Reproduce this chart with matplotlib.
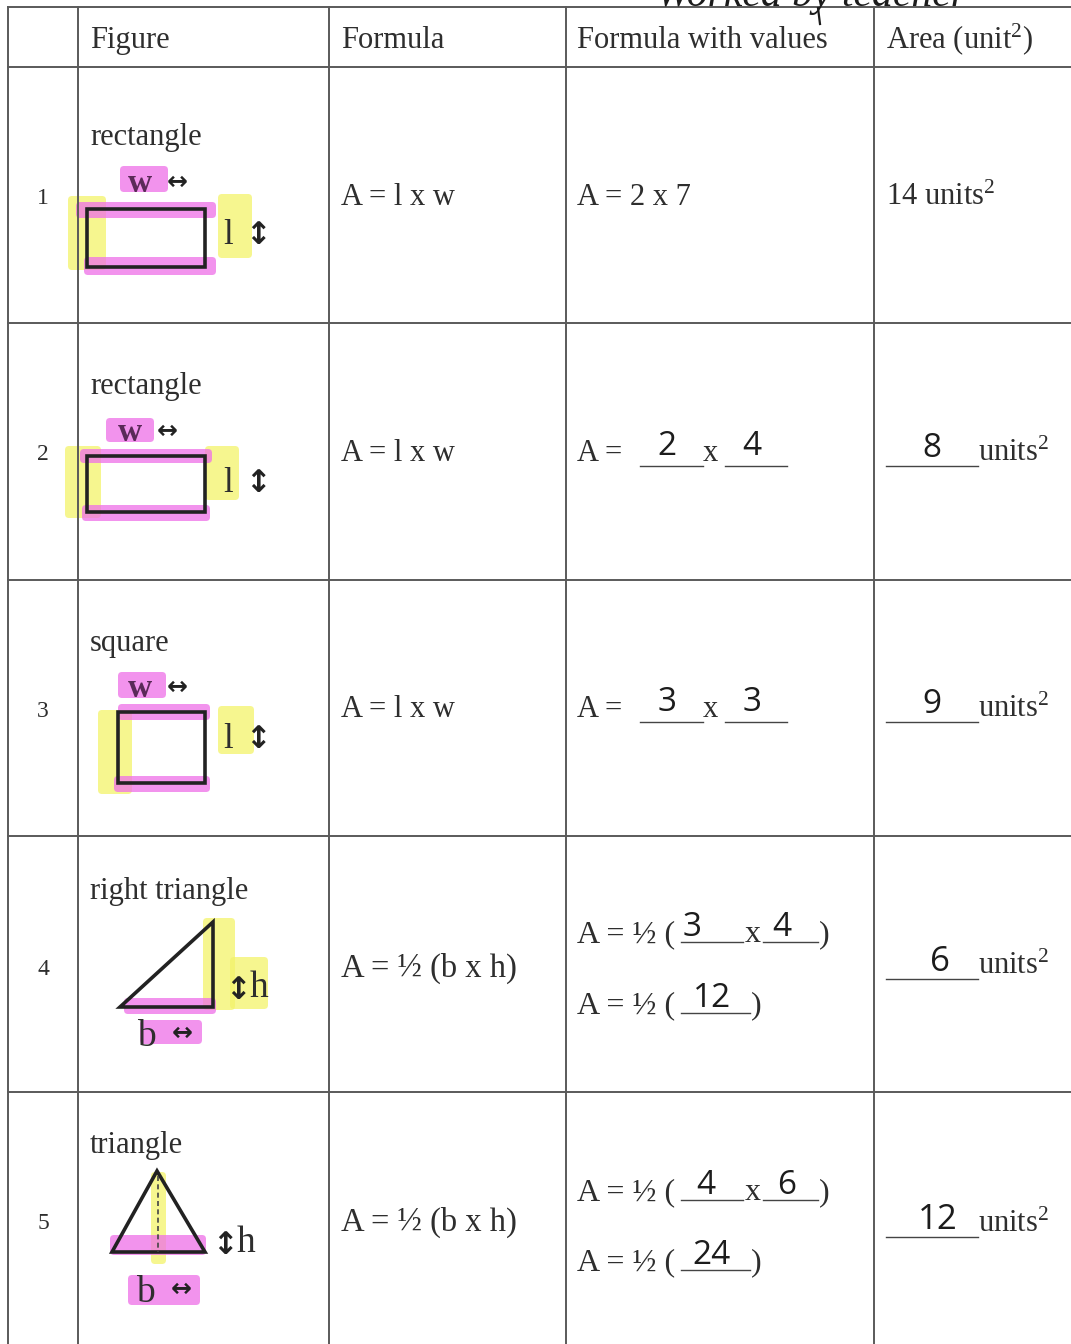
import matplotlib
matplotlib.use("Agg")
import matplotlib.pyplot as plt
from matplotlib.patches import Rectangle, Polygon, FancyBboxPatch

plt.rcParams["mathtext.fontset"] = "custom"
plt.rcParams["mathtext.rm"] = "Liberation Serif"
plt.rcParams["mathtext.it"] = "Liberation Serif:italic"

# ---------------- data ----------------
headers = ["Figure", "Formula", "Formula with values", r"Area (unit$^{2}$)"]
row_numbers = ["1", "2", "3", "4", "5"]
figure_names = ["rectangle", "rectangle", "square", "right triangle", "triangle"]
formulas = ["A = l x w", "A = l x w", "A = l x w", "A = ½ (b x h)", "A = ½ (b x h)"]
# handwritten values filled into the blanks
first_factor = ["2", "2", "3", "3", "4"]
second_factor = ["7", "4", "3", "4", "6"]
products = ["", "", "", "12", "24"]
areas = ["14", "8", "9", "6", "12"]
UNITS = r"units$^{2}$"

# ---------------- style ----------------
SERIF = ["Liberation Serif", "DejaVu Serif"]
HAND = ["Open Sans", "DejaVu Sans"]
ARROW = ["DejaVu Sans"]
INK = "#2e2e2e"
GRID = "#5a5a5a"
PINK = "#ee6fe8"
YELLOW = "#f3f36a"
PEN = "#1c1c1c"

fig = plt.figure(figsize=(10.71, 13.44), dpi=100)
ax = fig.add_axes([0, 0, 1, 1])
ax.set_xlim(0, 1071)
ax.set_ylim(1344, 0)
ax.axis("off")

col_x = [8, 78, 329, 566, 874]
row_y = [7, 67, 323, 580, 836, 1092]

# grid
for x in col_x:
    ax.plot([x, x], [7, 1344], color=GRID, lw=1.4, zorder=3)
for y in row_y:
    ax.plot([8, 1071], [y, y], color=GRID, lw=1.4, zorder=3)

# handwritten note at top (mostly cut off by the page edge)
ax.text(812, 6, "Worked by teacher", fontsize=30, style="italic",
        family=SERIF, color=PEN, ha="center", va="baseline", zorder=4)
ax.plot([818, 820], [8, 24], color=PEN, lw=1.6, zorder=4)

def t(x, y, s, size=22, ha="left", fam=SERIF, color=INK, **kw):
    ax.text(x, y, s, fontsize=size, family=fam, color=color,
            ha=ha, va="baseline", zorder=5, **kw)

def hand(x, y, s, size=24):
    ax.text(x, y, s, fontsize=size, family=HAND, color=PEN,
            ha="center", va="baseline", zorder=5)

def blank(x0, x1, y):
    ax.plot([x0, x1], [y, y], color="#444444", lw=1.0, zorder=4)

def hl(x, y, w, h, color, alpha=0.75):
    ax.add_patch(FancyBboxPatch((x, y), w, h, boxstyle="round,pad=0,rounding_size=4",
                                fc=color, ec="none", alpha=alpha, zorder=1))

# header
header_x = [90, 341, 577, 886]
for hx, h in zip(header_x, headers):
    t(hx, 48, h)

name_base = [145, 394, 651, 899, 1153]
mid_base = [205, 461, 717, 977, 1231]
num_base = [204, 460, 717, 975, 1229]

for i in range(5):
    t(43, num_base[i], row_numbers[i], size=17, ha="center")
    t(90, name_base[i], figure_names[i])
    t(341, mid_base[i], formulas[i], size=22 if i < 3 else 23.5)

# row 1: printed values
t(577, 205, f"A = {first_factor[0]} x {second_factor[0]}")
t(886, 205, f"{areas[0]} " + UNITS)

# rows 2-3: blanks
for i in (1, 2):
    yb = mid_base[i]
    t(577, yb, "A =")
    blank(640, 703, yb + 5)
    t(703, yb, "x")
    blank(725, 787, yb + 5)
    hand(667, yb - 6, first_factor[i])
    hand(752, yb - 6, second_factor[i])
    blank(886, 978, yb + 5)
    hand(932, yb - 4, areas[i])
    t(978, yb, UNITS)

# rows 4-5: half formulas
line1 = [942, 1200]
line2 = [1013, 1270]
area_b = [979, 1237]
for k, i in enumerate((3, 4)):
    y1, y2 = line1[k], line2[k]
    t(577, y1, "A = ½ (", size=23)
    blank(681, 743, y1)
    t(745, y1, "x", size=23)
    blank(763, 818, y1)
    t(819, y1, ")", size=23)
    hand(706 if i == 4 else 692, y1 - 6, first_factor[i])
    hand(782 if i == 3 else 787, y1 - 6, second_factor[i])
    t(577, y2, "A = ½ (", size=23)
    blank(681, 750, y2)
    t(751, y2, ")", size=23)
    hand(712, y2 - 6, products[i])
    blank(886, 978, area_b[k])
    hand(940 if i == 3 else 938, area_b[k] - 8, areas[i], size=25)
    t(978, area_b[k] - 5, UNITS)

# ---------------- figure sketches ----------------
def harrow(x, y):
    ax.text(x, y, "↔", fontsize=18, family=ARROW, color="#222222",
            ha="center", va="baseline", zorder=5, weight="bold")

def varrow(x, y):
    ax.text(x, y, "↕", fontsize=22, family=ARROW, color="#222222",
            ha="center", va="baseline", zorder=5, weight="bold")

def rect_fig(x0, y0, x1, y1, wx, wy, lx, ly, hls):
    for (hx, hy, hw, hh, c) in hls:
        hl(hx, hy, hw, hh, c)
    ax.add_patch(Rectangle((x0, y0), x1 - x0, y1 - y0, fill=False,
                           ec="#222222", lw=2.6, zorder=4))
    ax.text(wx, wy, "w", fontsize=24, family=SERIF, color="#5a2a58",
            ha="center", va="baseline", zorder=5, weight="bold")
    harrow(wx + 37, wy - 3)
    ax.text(lx, ly, "l", fontsize=25, family=SERIF, color=INK,
            ha="center", va="baseline", zorder=5)
    varrow(lx + 30, ly)

# row 1
rect_fig(87, 209, 205, 267, 140, 192, 228, 244, [
    (120, 166, 48, 26, PINK),
    (68, 196, 38, 74, YELLOW),
    (218, 194, 34, 64, YELLOW),
    (76, 202, 140, 16, PINK),
    (84, 257, 132, 18, PINK),
])
# row 2
rect_fig(87, 456, 205, 512, 130, 441, 228, 492, [
    (106, 418, 48, 24, PINK),
    (65, 446, 36, 72, YELLOW),
    (205, 446, 34, 54, YELLOW),
    (80, 449, 132, 14, PINK),
    (82, 505, 128, 16, PINK),
])
# row 3
rect_fig(118, 712, 205, 783, 140, 697, 228, 748, [
    (118, 672, 48, 26, PINK),
    (98, 710, 34, 84, YELLOW),
    (218, 706, 36, 48, YELLOW),
    (118, 704, 92, 16, PINK),
    (114, 776, 96, 16, PINK),
])

# row 4: right triangle
hl(203, 918, 32, 92, YELLOW)
hl(230, 957, 38, 52, YELLOW)
hl(124, 998, 92, 16, PINK)
hl(140, 1020, 62, 24, PINK)
ax.add_patch(Polygon([(120, 1007), (213, 922), (213, 1007)], closed=True,
                     fill=False, ec="#222222", lw=2.6, zorder=4))
varrow(238, 999)
ax.text(259, 997, "h", fontsize=27, family=SERIF, color=INK,
        ha="center", va="baseline", zorder=5)
ax.text(146, 1046, "b", fontsize=27, family=SERIF, color=INK,
        ha="center", va="baseline", zorder=5)
harrow(182, 1040)

# row 5: triangle
hl(151, 1172, 15, 92, YELLOW)
hl(110, 1235, 96, 20, PINK)
hl(128, 1275, 72, 30, PINK)
ax.add_patch(Polygon([(112, 1252), (157, 1171), (205, 1252)], closed=True,
                     fill=False, ec="#222222", lw=2.6, zorder=4))
ax.plot([158, 158], [1176, 1252], color="#444444", lw=1.2, ls=(0, (3, 2)), zorder=4)
varrow(225, 1254)
ax.text(246, 1252, "h", fontsize=27, family=SERIF, color=INK,
        ha="center", va="baseline", zorder=5)
ax.text(145, 1302, "b", fontsize=27, family=SERIF, color=INK,
        ha="center", va="baseline", zorder=5)
harrow(181, 1296)

fig.savefig("out.png", dpi=100, facecolor="white")
